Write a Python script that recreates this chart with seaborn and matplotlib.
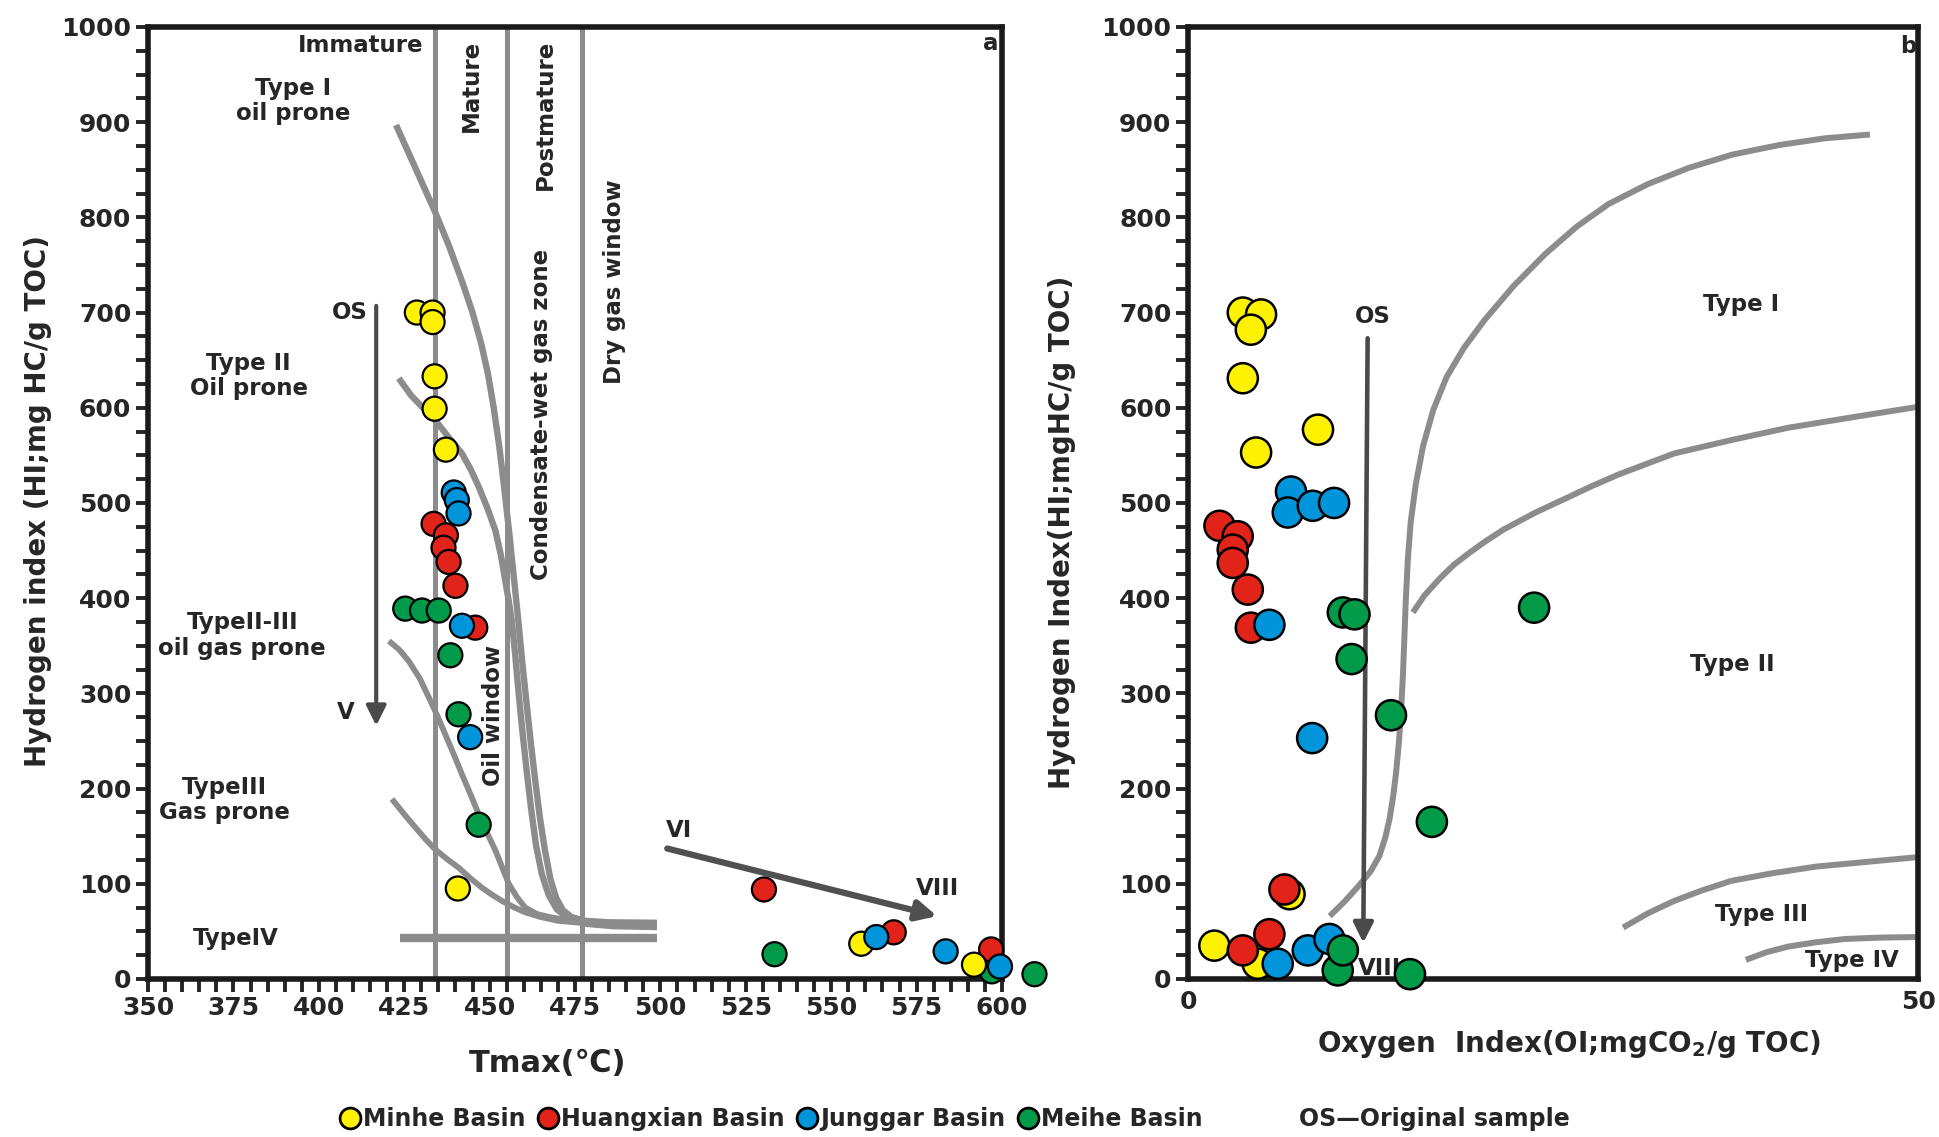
import numpy as np
import pandas as pd
import matplotlib
matplotlib.use("Agg")
import matplotlib.pyplot as plt
import seaborn as sns
from matplotlib.lines import Line2D

# ---------------- data ----------------
basins = ["Minhe Basin", "Huangxian Basin", "Junggar Basin", "Meihe Basin"]
basin_colors = ["#FFF200", "#E2231A", "#0095DA", "#009A49"]

# panel a : Tmax vs HI
minhe_tmax_a = [428.7, 433.3, 433.3, 433.9, 433.9, 437.2, 440.7, 558.8, 591.8]
minhe_hi_a = [700, 700, 690, 633, 599, 556, 95, 37, 15]
huangxian_tmax_a = [433.6, 437.2, 436.5, 438.0, 440.0, 445.8, 530.3, 568.3, 596.8]
huangxian_hi_a = [478, 466, 453, 438, 413, 369, 94, 49, 31]
junggar_tmax_a = [439.5, 440.4, 440.9, 441.9, 444.3, 563.2, 583.5, 599.4]
junggar_hi_a = [511, 503, 489, 371, 254, 44, 29, 13]
meihe_tmax_a = [425.3, 430.2, 435.1, 438.5, 440.9, 446.8, 533.4, 597.0, 609.5]
meihe_hi_a = [389, 387, 387, 340, 278, 162, 26, 8, 5]

# panel b : OI vs HI
minhe_oi_b = [3.75, 5.0, 4.3, 3.75, 8.9, 4.66, 6.95, 1.8, 4.77]
minhe_hi_b = [700, 698, 682, 631, 577, 553, 89, 35, 16]
huangxian_oi_b = [2.15, 3.4, 3.06, 3.06, 4.09, 4.3, 6.6, 3.75, 5.57]
huangxian_hi_b = [476, 465, 451, 437, 409, 369, 94, 30, 47]
junggar_oi_b = [7.05, 6.83, 8.54, 10.0, 5.57, 8.5, 6.14, 8.2, 9.68]
junggar_hi_b = [512, 490, 497, 500, 372, 253, 16, 30, 42]
meihe_oi_b = [10.6, 11.4, 23.7, 11.2, 13.9, 16.7, 10.25, 10.6, 15.2]
meihe_hi_b = [385, 383, 390, 336, 277, 165, 9, 30, 5]

# panel a reference curves (Tmax, HI)
maturity_bounds = [434, 455, 477]
typeI_t = [422.6, 426.0, 430.0, 434.0, 438.0, 442.0, 445.0, 447.5, 449.5, 451.2, 452.8,
           454.3, 455.7, 457.0, 458.3, 459.5, 460.8, 462.0, 463.3, 464.7, 466.2, 467.8,
           469.5, 471.5, 474.0, 478.0, 485.0, 499.0]
typeI_hi = [897, 870, 838, 806, 771, 732, 700, 668, 636, 600, 560,
            515, 470, 425, 380, 335, 290, 250, 210, 170, 135, 105,
            85, 72, 65, 61, 59.5, 59]
typeII_t = [423.4, 427.0, 431.0, 434.5, 438.0, 441.9, 444.5, 446.8, 449.3, 451.7, 453.3,
            454.6, 455.6, 456.5, 457.5, 458.5, 459.6, 460.8, 462.1, 463.6, 465.3, 467.3,
            469.7, 473.0, 478.0, 486.0, 499.0]
typeII_hi = [631, 613, 598, 585, 569, 552, 535, 517, 495, 471, 445,
             418, 397, 376, 340, 300, 260, 220, 180, 140, 110, 88,
             73, 64, 58, 55.5, 54.5]
typeII_III_t = [420.5, 423.5, 426.3, 429.5, 432.7, 435.0, 437.0, 439.5, 441.9, 444.4, 446.8,
                449.3, 451.7, 453.7, 455.6, 458.0, 460.4, 464.0, 468.2, 473.0, 480.0, 490.0]
typeII_III_hi = [355, 346, 334, 316, 292, 274, 257, 236, 215, 194, 173,
                 153, 135, 117, 100, 86, 75, 68, 64.5, 62, 60, 58]
typeIII_t = [421.4, 425.0, 428.3, 431.2, 434.1, 437.5, 440.9, 444.3, 447.7, 450.7, 453.6,
             457.0, 460.4, 465.0, 470.2, 480.0]
typeIII_hi = [189, 173, 159, 147, 136, 126, 117, 106, 96, 88.5, 82,
              75.5, 70, 65, 61, 58]
typeIV_t = [423.7, 499.0]
typeIV_hi = [43, 43]

# panel b reference curves (OI, HI)
b_typeI_oi = [9.7, 10.7, 11.7, 12.5, 13.1, 13.5, 13.8, 14.05, 14.25, 14.45, 14.6, 14.72,
              14.82, 14.92, 15.05, 15.25, 15.6, 16.1, 16.8, 17.7, 18.9, 20.3, 22.3, 24.5,
              26.6, 28.8, 31.5, 34.3, 37.3, 40.5, 43.6, 46.7]
b_typeI_hi = [66, 81, 98, 113, 129, 148, 168, 192, 217, 250, 285, 320,
              360, 400, 440, 480, 520, 560, 598, 632, 663, 692, 728, 762,
              790, 814, 835, 852, 866, 876, 883, 887]
b_typeII_oi = [15.4, 16.2, 17.2, 18.2, 19.3, 20.4, 21.6, 22.7, 23.8, 25.9, 27.7, 29.5,
               31.4, 33.3, 37.2, 41.1, 45.5, 50.0]
b_typeII_hi = [385, 403, 420, 435, 448, 460, 472, 481, 490, 505, 518, 530,
               541, 552, 566, 579, 590, 601]
b_typeIII_oi = [29.8, 31.5, 33.3, 35.2, 37.2, 40.0, 43.0, 46.5, 50.0]
b_typeIII_hi = [54, 69, 82, 93, 103, 111, 118, 123, 128]
b_typeIV_oi = [38.2, 39.6, 41.1, 43.0, 45.0, 47.5, 50.0]
b_typeIV_hi = [20, 28, 34, 38.5, 42, 43.5, 44]

# ---------------- style ----------------
sns.set_style("ticks")
plt.rcParams["font.family"] = ["DejaVu Sans"]
plt.rcParams["font.weight"] = "bold"
plt.rcParams["axes.labelweight"] = "bold"

GRAY = "#8c8c8c"
DARK = "#4a4a4a"
palette = dict(zip(basins, basin_colors))

fig = plt.figure(figsize=(19.4, 11.37), dpi=100)
ax1 = fig.add_axes([0.0763, 0.1390, 0.4402, 0.8373])
ax2 = fig.add_axes([0.6124, 0.1390, 0.3763, 0.8373])

def frame(pairs, xname):
    parts = []
    for name, xs, ys in pairs:
        parts.append(pd.DataFrame({xname: xs, "HI": ys, "Basin": name}))
    return pd.concat(parts, ignore_index=True)

df_a = frame([("Meihe Basin", meihe_tmax_a, meihe_hi_a),
              ("Huangxian Basin", huangxian_tmax_a, huangxian_hi_a),
              ("Minhe Basin", minhe_tmax_a, minhe_hi_a),
              ("Junggar Basin", junggar_tmax_a, junggar_hi_a)], "Tmax")
df_b = frame([("Minhe Basin", minhe_oi_b, minhe_hi_b),
              ("Huangxian Basin", huangxian_oi_b, huangxian_hi_b),
              ("Junggar Basin", junggar_oi_b, junggar_hi_b),
              ("Meihe Basin", meihe_oi_b, meihe_hi_b)], "OI")

# ---------------- panel a ----------------
for t in maturity_bounds:
    ax1.axvline(t, color=GRAY, lw=3.6, zorder=1)
for xs, ys, lw in [(typeI_t, typeI_hi, 4.6), (typeII_t, typeII_hi, 4.6),
                   (typeII_III_t, typeII_III_hi, 4.2), (typeIII_t, typeIII_hi, 4.2),
                   (typeIV_t, typeIV_hi, 6.0)]:
    ax1.plot(xs, ys, color=GRAY, lw=lw, solid_capstyle="butt", solid_joinstyle="round",
             zorder=2)

sns.scatterplot(data=df_a, x="Tmax", y="HI", hue="Basin", palette=palette,
                s=300, edgecolor="black", linewidth=1.6, legend=False, ax=ax1,
                zorder=5, clip_on=False)

ax1.annotate("", xy=(416.8, 266), xytext=(416.8, 707),
             arrowprops=dict(arrowstyle="-|>", color=DARK, lw=3, mutation_scale=30,
                             shrinkA=0, shrinkB=0), zorder=3)
ax1.annotate("", xy=(581, 66), xytext=(502, 137),
             arrowprops=dict(arrowstyle="-|>", color="#505050", lw=4.5, mutation_scale=30,
                             shrinkA=0, shrinkB=0), zorder=3)

FS = 16.5
txt = dict(fontsize=FS, fontweight="bold", ha="center", va="center", zorder=4)
ax1.text(412.3, 980, "Immature", **txt)
ax1.text(392.6, 922, "Type I\noil prone", linespacing=1.1, **txt)
ax1.text(379.5, 633, "Type II\nOil prone", linespacing=1.1, **txt)
ax1.text(377.6, 361, "TypeII-III\noil gas prone", linespacing=1.15, **txt)
ax1.text(372.3, 188, "TypeIII\nGas prone", linespacing=1.1, **txt)
ax1.text(375.6, 42, "TypeIV", **txt)
ax1.text(409.2, 700, "OS", **txt)
ax1.text(407.9, 280, "V", **txt)
ax1.text(505.5, 156, "VI", **txt)
ax1.text(581.0, 95, "VIII", **txt)
ax1.text(444.7, 938, "Mature", rotation=90, **txt)
ax1.text(466.4, 908, "Postmature", rotation=90, **txt)
ax1.text(465.3, 593, "Condensate-wet gas zone", rotation=90, **txt)
ax1.text(486.5, 732, "Dry gas window", rotation=90, **txt)
ax1.text(451.2, 277, "Oil window", rotation=90, **txt)
ax1.text(599, 995, "a", fontsize=FS, fontweight="bold", ha="right", va="top")

ax1.set_xlim(350, 600)
ax1.set_ylim(0, 1000)
ax1.set_xticks(np.arange(350, 601, 25))
ax1.set_xticks(np.arange(350, 601, 5), minor=True)
ax1.set_yticks(np.arange(0, 1001, 100))
ax1.set_yticks(np.arange(0, 1001, 25), minor=True)
ax1.tick_params(which="both", direction="out", length=9, width=2.8, labelsize=18, pad=3)
ax1.set_xlabel("Tmax(℃)", fontsize=22, fontweight="bold")
ax1.set_ylabel("Hydrogen index (HI;mg HC/g TOC)", fontsize=20, fontweight="bold")
ax1.xaxis.set_label_coords(0.468, -0.0735)
ax1.yaxis.set_label_coords(-0.112, 0.502)

# ---------------- panel b ----------------
for xs, ys in [(b_typeI_oi, b_typeI_hi), (b_typeII_oi, b_typeII_hi),
               (b_typeIII_oi, b_typeIII_hi), (b_typeIV_oi, b_typeIV_hi)]:
    ax2.plot(xs, ys, color=GRAY, lw=4.3, solid_capstyle="butt", solid_joinstyle="round",
             zorder=2)

ax2.annotate("", xy=(12.0, 38), xytext=(12.3, 673),
             arrowprops=dict(arrowstyle="-|>", color=DARK, lw=3.3, mutation_scale=30,
                             shrinkA=0, shrinkB=0), zorder=3)
ax2.text(12.65, 696, "OS", **txt)
ax2.text(13.1, 10.5, "VIII", **txt)
ax2.text(37.9, 708, "Type I", **txt)
ax2.text(37.3, 330, "Type II", **txt)
ax2.text(39.3, 68, "Type III", **txt)
ax2.text(45.5, 19, "Type IV", **txt)
ax2.text(49.9, 992, "b", fontsize=FS, fontweight="bold", ha="right", va="top")

sns.scatterplot(data=df_b, x="OI", y="HI", hue="Basin", palette=palette,
                s=470, edgecolor="black", linewidth=1.8, legend=False, ax=ax2,
                zorder=5, clip_on=False)

ax2.set_xlim(0, 50)
ax2.set_ylim(0, 1000)
ax2.set_xticks([0, 50])
ax2.set_yticks(np.arange(0, 1001, 100))
ax2.set_yticks(np.arange(0, 1001, 25), minor=True)
ax2.tick_params(which="both", direction="out", length=9, width=2.8, labelsize=18, pad=3)
ax2.tick_params(axis="x", length=0, pad=8)
ax2.set_xlabel("Oxygen  Index(OI;mgCO$_\\mathbf{2}$/g TOC)", fontsize=20, fontweight="bold")
ax2.set_ylabel("Hydrogen Index(HI;mgHC/g TOC)", fontsize=20, fontweight="bold")
ax2.xaxis.set_label_coords(0.522, -0.0515)
ax2.yaxis.set_label_coords(-0.153, 0.4695)

for ax in (ax1, ax2):
    for sp in ax.spines.values():
        sp.set_visible(True)
        sp.set_linewidth(4.0)
        sp.set_color("#1a1a1a")

# ---------------- legend ----------------
handles = [Line2D([], [], ls="", marker="o", markersize=15, markerfacecolor=c,
                  markeredgecolor="black", markeredgewidth=2) for c in basin_colors]
fig.legend(handles, basins, ncol=4, loc="center left", bbox_to_anchor=(0.169, 0.0158),
           frameon=False, handletextpad=0.1, columnspacing=0.5, handlelength=0.9,
           borderpad=0, prop=dict(size=17, weight="bold"))
fig.text(0.6696, 0.0158, "OS—Original sample", fontsize=17, fontweight="bold",
         ha="left", va="center")

fig.savefig("out.png", dpi=100)
